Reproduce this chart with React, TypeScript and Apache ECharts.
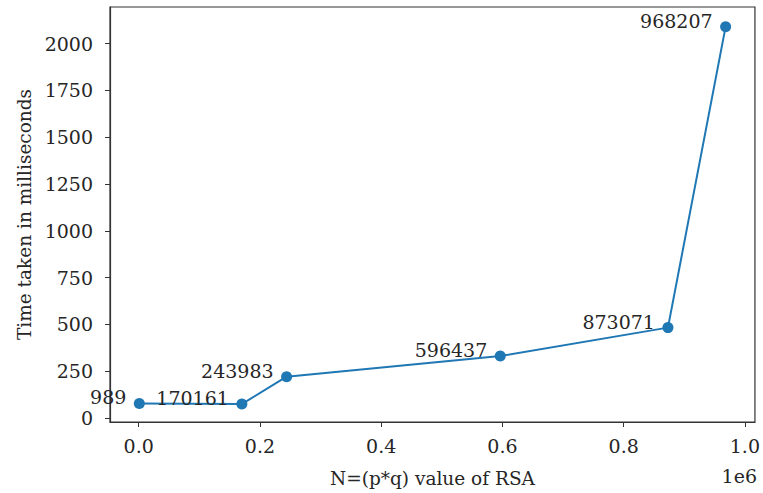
import React, { useEffect, useRef } from "react";
import * as echarts from "echarts";

const nValues = [989, 170161, 243983, 596437, 873071, 968207];
const timeMs = [78, 75, 221, 331, 483, 2090];
const xTicks = [0, 200000, 400000, 600000, 800000, 1000000];
const yTicks = [0, 250, 500, 750, 1000, 1250, 1500, 1750, 2000];
const xTitle = "N=(p*q) value of RSA";
const yTitle = "Time taken in milliseconds";
const xOffsetText = "1e6";

const FONT = "DejaVu Serif";
const TXT = "#262626";
const FS = 19;

export default function App() {
  const ref = useRef<HTMLDivElement>(null);
  useEffect(() => {
    if (!ref.current) return;
    const chart = echarts.init(ref.current, undefined, { renderer: "svg" });
    const data = nValues.map((n, i) => [n, timeMs[i]]);
    chart.setOption({
      animation: false,
      backgroundColor: "#fff",
      grid: {
        left: 110,
        right: 5,
        top: 7,
        bottom: 64,
        show: true,
        borderColor: "#333",
        borderWidth: 1.2,
        containLabel: false,
      },
      xAxis: {
        type: "value",
        min: -47372,
        max: 1016568,
        name: xTitle,
        nameLocation: "middle",
        nameGap: 47,
        nameTextStyle: { fontFamily: FONT, fontSize: 18.5, color: TXT },
        axisLine: { show: true, onZero: false, lineStyle: { color: "#333", width: 1.2 } },
        axisTick: { show: true, length: 5, customValues: xTicks, lineStyle: { color: "#333" } },
        axisLabel: {
          customValues: xTicks,
          margin: 14,
          fontFamily: FONT,
          fontSize: FS,
          color: TXT,
          formatter: (v: number) => (v / 1e6).toFixed(1),
        },
        splitLine: { show: false },
      },
      yAxis: {
        type: "value",
        min: -21,
        max: 2195,
        name: yTitle,
        nameLocation: "middle",
        nameGap: 76,
        nameRotate: 90,
        nameTextStyle: { fontFamily: FONT, fontSize: 18.5, color: TXT },
        axisLine: { show: true, onZero: false, lineStyle: { color: "#333", width: 1.2 } },
        axisTick: { show: true, length: 5, customValues: yTicks, lineStyle: { color: "#333" } },
        axisLabel: {
          customValues: yTicks,
          margin: 17,
          fontFamily: FONT,
          fontSize: FS,
          color: TXT,
          formatter: (v: number) => String(v),
        },
        splitLine: { show: false },
      },
      series: [
        {
          type: "line",
          data,
          symbol: "circle",
          symbolSize: 11,
          lineStyle: { color: "#1f77b4", width: 2 },
          itemStyle: { color: "#1f77b4" },
          label: {
            show: true,
            position: "inside",
            align: "right",
            verticalAlign: "middle",
            offset: [-13, -6],
            fontFamily: FONT,
            fontSize: FS,
            color: TXT,
            formatter: (p: any) => String(p.value[0]),
          },
        },
      ],
      graphic: [
        {
          type: "text",
          right: 6,
          top: 466,
          style: { text: xOffsetText, font: `${FS}px "${FONT}"`, fill: TXT },
        },
      ],
    });
    return () => chart.dispose();
  }, []);
  return (
    <div
      ref={ref}
      style={{ position: "fixed", left: 0, top: 0, width: 763, height: 493 }}
    />
  );
}
